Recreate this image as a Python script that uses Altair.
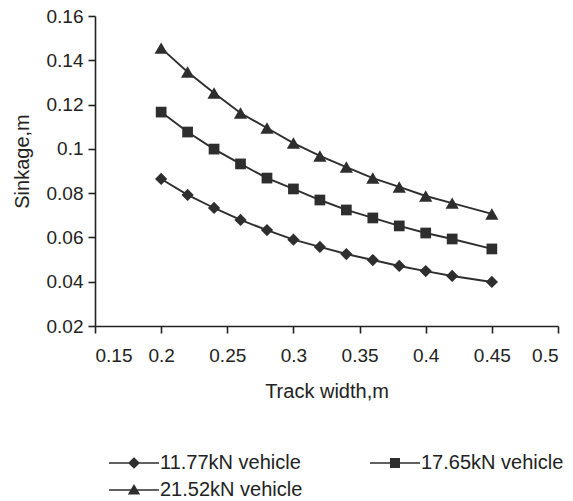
import altair as alt
import pandas as pd

track_width = [0.20, 0.22, 0.24, 0.26, 0.28, 0.30, 0.32, 0.34, 0.36, 0.38, 0.40, 0.42, 0.45]
sink_1177 = [0.0864, 0.0792, 0.0733, 0.0679, 0.0633, 0.0590, 0.0557, 0.0525, 0.0498, 0.0471, 0.0448, 0.0426, 0.0399]
sink_1765 = [0.1166, 0.1076, 0.0999, 0.0932, 0.0868, 0.0819, 0.0769, 0.0724, 0.0688, 0.0652, 0.0620, 0.0593, 0.0548]
sink_2152 = [0.1455, 0.1347, 0.1252, 0.1162, 0.1094, 0.1026, 0.0968, 0.0918, 0.0868, 0.0828, 0.0787, 0.0755, 0.0706]
series_names = ["11.77kN vehicle", "17.65kN vehicle", "21.52kN vehicle"]
x_ticks = [0.15, 0.2, 0.25, 0.3, 0.35, 0.4, 0.45, 0.5]
y_ticks = [0.02, 0.04, 0.06, 0.08, 0.1, 0.12, 0.14, 0.16]

rows = []
for name, vals in zip(series_names, [sink_1177, sink_1765, sink_2152]):
    for xv, yv in zip(track_width, vals):
        rows.append({"w": xv, "s": yv, "series": name})
df = pd.DataFrame(rows)

FONT = "Liberation Sans"
INK = "#2e2e2e"
TXT = "#222222"

x_enc = alt.X("w:Q", scale=alt.Scale(domain=[0.15, 0.5], nice=False, zero=False),
              axis=alt.Axis(values=x_ticks, format="~g", title="Track width,m"))
y_enc = alt.Y("s:Q", scale=alt.Scale(domain=[0.02, 0.16], nice=False, zero=False),
              axis=alt.Axis(values=y_ticks, format="~g", title="Sinkage,m", titleY=145))

base = alt.Chart(df)

lines = base.mark_line(color=INK, strokeWidth=1.9).encode(x=x_enc, y=y_enc, detail="series:N")

shapes = {"11.77kN vehicle": ("diamond", 150), "17.65kN vehicle": ("square", 115),
          "21.52kN vehicle": ("triangle-up", 175)}
point_layers = []
for name in series_names:
    shp, sz = shapes[name]
    point_layers.append(
        base.transform_filter(alt.datum.series == name)
        .mark_point(filled=True, color=INK, opacity=1, shape=shp, size=sz)
        .encode(x=x_enc, y=y_enc)
    )

# legend glyphs: a thin filled bar (the line) plus the marker, same winding
bar = "M-2.5,-0.08H2.5V0.08H-2.5Z"
legend_paths = [
    bar + "M-0.6,0L0,-0.58L0.6,0L0,0.58Z",
    bar + "M-0.5,-0.5H0.5V0.5H-0.5Z",
    bar + "M0,-0.6L0.62,0.45L-0.62,0.45Z",
]
legend_layer = (
    base.transform_filter("false")
    .mark_point(filled=True, color=INK, opacity=1)
    .encode(
        x=x_enc, y=y_enc,
        shape=alt.Shape("series:N",
                        scale=alt.Scale(domain=series_names, range=legend_paths),
                        legend=alt.Legend(
                            title=None, orient="none", legendX=13, legendY=436,
                            direction="horizontal", columns=2,
                            columnPadding=64, rowPadding=6,
                            symbolSize=400, symbolOffset=15, labelOffset=15,
                            symbolFillColor=INK,
                            labelFont=FONT, labelFontSize=20, labelColor=TXT,
                        )),
    )
)

chart = alt.layer(lines, *point_layers, legend_layer).properties(
    width=463, height=310,
    padding={"left": 95, "top": 16, "right": 15, "bottom": 175},
    autosize=alt.AutoSizeParams(type="none"),
).configure_view(stroke=None).configure_axis(
    domainColor=TXT, domainWidth=1.6, tickColor=TXT, tickWidth=1.6, tickSize=7,
    grid=False, labelFont=FONT, labelFontSize=19, labelColor=TXT,
    titleFont=FONT, titleFontSize=20, titleColor=TXT, titleFontWeight="normal",
).configure_axisY(labelPadding=5, titlePadding=14).configure_axisX(labelPadding=13, titlePadding=16)

chart.save("out.html", embed_options={"renderer": "svg", "actions": False})
